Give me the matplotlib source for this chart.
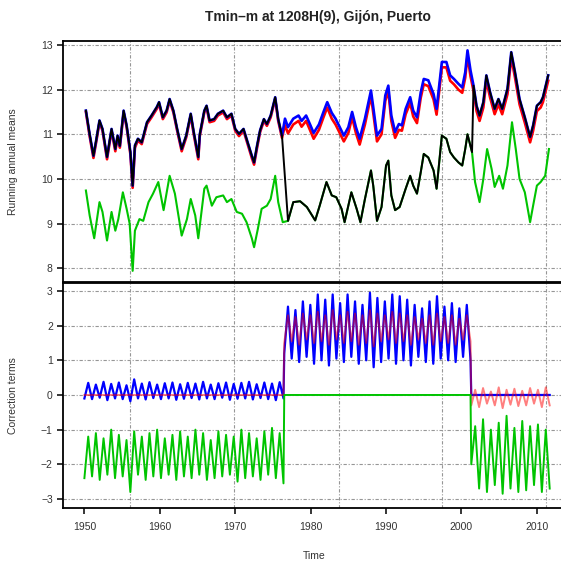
import numpy as np
import matplotlib
matplotlib.use("Agg")
import matplotlib.pyplot as plt

plt.rcParams['font.family'] = ['Liberation Sans', 'DejaVu Sans']

title = "Tmin\u2013m at 1208H(9), Gij\u00f3n, Puerto"

# ---- top panel: running annual means ----
upper_years = [1950.2, 1950.7, 1951.2, 1951.6, 1952.0, 1952.4, 1953.0, 1953.6, 1954.1, 1954.4,
               1954.7, 1955.2, 1955.6, 1956.1, 1956.4, 1956.7, 1957.1, 1957.6, 1958.3, 1958.9,
               1959.6, 1959.9, 1960.4, 1960.9, 1961.3, 1961.8, 1962.3, 1962.9, 1963.5, 1964.1,
               1964.5, 1965.1, 1965.3, 1965.9, 1966.2, 1966.6, 1967.2, 1967.7, 1968.4, 1968.9,
               1969.5, 1970.0, 1970.5, 1971.1, 1971.5, 1972.2, 1972.5, 1972.9, 1973.3, 1973.8,
               1974.2, 1974.7, 1975.3, 1975.7, 1976.2, 1976.6, 1977.0, 1977.7, 1978.4, 1978.8,
               1979.4, 1979.9, 1980.4, 1981.1, 1981.7, 1982.2, 1982.8, 1983.3, 1983.8, 1984.4,
               1985.0, 1985.5, 1986.0, 1986.5, 1987.2, 1988.0, 1988.3, 1988.8, 1989.4, 1989.9,
               1990.3, 1990.7, 1991.2, 1991.7, 1992.1, 1992.6, 1993.2, 1993.6, 1994.1, 1994.6,
               1995.0, 1995.6, 1996.3, 1996.7, 1997.4, 1998.0, 1998.5, 1999.0, 1999.6, 2000.1,
               2000.5, 2000.8, 2001.2, 2001.6, 2002.0, 2002.4, 2002.9, 2003.3, 2003.8, 2004.4,
               2004.9, 2005.4, 2006.1, 2006.6, 2007.1, 2007.7, 2008.4, 2009.1, 2009.5, 2010.0,
               2010.5, 2010.8, 2011.5]
blue_means = [11.53, 11.0, 10.52, 10.9, 11.31, 11.12, 10.49, 11.12, 10.67, 10.97,
              10.74, 11.53, 11.2, 10.6, 9.85, 10.75, 10.9, 10.82, 11.27, 11.42,
              11.61, 11.72, 11.38, 11.53, 11.79, 11.53, 11.12, 10.67, 10.97, 11.46,
              11.05, 10.49, 11.0, 11.53, 11.64, 11.31, 11.34, 11.46, 11.53, 11.38,
              11.46, 11.12, 11.01, 11.12, 10.9, 10.52, 10.37, 10.75, 11.09, 11.34,
              11.23, 11.42, 11.83, 11.34, 10.97, 11.35, 11.16, 11.35, 11.42, 11.3,
              11.42, 11.23, 11.03, 11.22, 11.5, 11.72, 11.48, 11.35, 11.18, 10.97,
              11.16, 11.5, 11.16, 10.9, 11.35, 11.98, 11.61, 10.97, 11.12, 11.87,
              12.09, 11.42, 11.05, 11.23, 11.2, 11.57, 11.83, 11.53, 11.38, 11.94,
              12.24, 12.21, 11.9, 11.57, 12.62, 12.62, 12.32, 12.24, 12.13, 12.05,
              12.39, 12.88, 12.43, 12.09, 11.64, 11.42, 11.72, 12.32, 11.94, 11.57,
              11.79, 11.57, 12.02, 12.84, 12.39, 11.79, 11.38, 10.94, 11.2, 11.64,
              11.72, 11.83, 12.32]
red_means = [11.5, 10.95, 10.47, 10.86, 11.27, 11.08, 10.44, 11.08, 10.62, 10.93,
             10.7, 11.49, 11.16, 10.55, 9.8, 10.7, 10.86, 10.78, 11.23, 11.38,
             11.57, 11.68, 11.34, 11.49, 11.75, 11.49, 11.08, 10.62, 10.93, 11.42,
             11.0, 10.44, 10.96, 11.49, 11.6, 11.27, 11.3, 11.42, 11.49, 11.34,
             11.42, 11.08, 10.96, 11.08, 10.86, 10.47, 10.32, 10.7, 11.05, 11.3,
             11.19, 11.38, 11.79, 11.3, 10.92, 11.2, 11.02, 11.22, 11.3, 11.17,
             11.3, 11.1, 10.9, 11.1, 11.38, 11.6, 11.35, 11.22, 11.05, 10.84,
             11.03, 11.38, 11.03, 10.77, 11.22, 11.86, 11.48, 10.84, 11.0, 11.75,
             11.97, 11.3, 10.92, 11.1, 11.08, 11.45, 11.7, 11.4, 11.25, 11.82,
             12.12, 12.08, 11.78, 11.44, 12.5, 12.5, 12.2, 12.12, 12.0, 11.93,
             12.27, 12.76, 12.3, 11.97, 11.52, 11.3, 11.6, 12.2, 11.82, 11.45,
             11.67, 11.45, 11.9, 12.72, 12.27, 11.67, 11.26, 10.82, 11.08, 11.52,
             11.6, 11.72, 12.2]

lower_years = [1950.2, 1950.7, 1951.3, 1952.0, 1952.4, 1953.0, 1953.6, 1954.1, 1954.5, 1955.1,
               1955.6, 1956.0, 1956.4, 1956.7, 1957.3, 1957.8, 1958.5, 1959.1, 1959.8, 1960.5,
               1961.3, 1962.0, 1962.9, 1963.6, 1964.1, 1964.7, 1965.1, 1965.9, 1966.2, 1966.9,
               1967.5, 1968.4, 1968.9, 1969.5, 1970.2, 1970.9, 1971.5, 1972.2, 1972.5, 1973.0,
               1973.5, 1974.2, 1974.7, 1975.3, 1975.7, 1976.3, 1977.0, 1977.7, 1978.6, 1979.5,
               1980.6, 1981.2, 1982.1, 1982.8, 1983.4, 1984.1, 1984.5, 1985.4, 1986.1, 1986.6,
               1987.2, 1988.0, 1988.3, 1988.8, 1989.4, 1990.0, 1990.3, 1990.7, 1991.2, 1991.8,
               1992.6, 1993.2, 1993.6, 1994.1, 1994.6, 1995.0, 1995.6, 1996.3, 1996.7, 1997.4,
               1998.0, 1998.5, 1999.0, 1999.6, 2000.1, 2000.5, 2000.8, 2001.4, 2001.8, 2002.4,
               2002.9, 2003.4, 2004.0, 2004.4, 2005.0, 2005.5, 2006.1, 2006.7, 2007.2, 2007.7,
               2008.4, 2009.1, 2009.5, 2010.0, 2010.5, 2011.1, 2011.6]
lower_means = [9.74, 9.18, 8.67, 9.48, 9.26, 8.62, 9.26, 8.84, 9.1, 9.7,
               9.33, 9.0, 7.94, 8.84, 9.1, 9.06, 9.48, 9.67, 9.93, 9.3,
               10.07, 9.67, 8.73, 9.1, 9.55, 9.18, 8.67, 9.78, 9.85, 9.4,
               9.59, 9.63, 9.48, 9.55, 9.26, 9.22, 9.03, 8.67, 8.47, 8.88,
               9.33, 9.4, 9.55, 10.07, 9.48, 9.03, 9.06, 9.48, 9.5, 9.37,
               9.07, 9.4, 9.93, 9.63, 9.59, 9.33, 9.03, 9.7, 9.33, 9.03,
               9.55, 10.19, 9.85, 9.06, 9.37, 10.3, 10.41, 9.63, 9.3, 9.37,
               9.78, 10.07, 9.85, 9.67, 10.15, 10.56, 10.48, 10.19, 9.78, 10.97,
               10.9, 10.6, 10.48, 10.37, 10.3, 10.67, 11.0, 10.6, 9.93, 9.48,
               10.0, 10.67, 10.22, 9.82, 10.07, 9.78, 10.3, 11.27, 10.67, 10.0,
               9.7, 9.03, 9.4, 9.85, 9.93, 10.07, 10.67]

# black series switches to the lower reference between the two breaks
break_start = 1976.4
break_end = 2001.5

# ---- bottom panel: correction terms (winter lows / summer highs) ----
blue_early_lo = [-0.10, -0.12, -0.08, -0.15, -0.10, -0.12, -0.18, -0.10, -0.13, -0.09, -0.12, -0.10, -0.14,
                 -0.11, -0.09, -0.13, -0.10, -0.12, -0.08, -0.14, -0.11, -0.10, -0.13, -0.09, -0.12, -0.15, -0.10]
blue_early_hi = [0.35, 0.30, 0.38, 0.32, 0.36, 0.28, 0.45, 0.33, 0.37, 0.30, 0.34, 0.36, 0.31,
                 0.35, 0.33, 0.38, 0.30, 0.34, 0.36, 0.32, 0.35, 0.38, 0.31, 0.36, 0.33, 0.37]
green_early_lo = [-2.4, -2.35, -2.45, -2.3, -2.4, -2.35, -2.8, -2.3, -2.45, -2.35, -2.4, -2.3, -2.45,
                  -2.35, -2.4, -2.3, -2.45, -2.4, -2.35, -2.3, -2.5, -2.4, -2.35, -2.45, -2.3, -2.4, -2.55]
green_early_hi = [-1.2, -1.1, -1.25, -1.0, -1.15, -1.3, -1.05, -1.2, -1.1, -1.0, -1.25, -1.15, -1.05,
                  -1.2, -1.0, -1.1, -1.3, -1.05, -1.15, -1.2, -1.0, -1.1, -1.25, -1.05, -0.95, -1.1]

blue_mid_lo = [1.2, 1.05, 0.95, 1.1, 0.9, 1.0, 0.85, 1.05, 0.95, 1.1, 0.9, 1.0, 0.8,
               0.95, 1.05, 0.9, 1.0, 0.85, 1.1, 0.95, 0.9, 1.05, 1.0, 0.95, 1.1, 1.0]
blue_mid_hi = [2.55, 2.45, 2.7, 2.6, 2.9, 2.75, 2.9, 2.65, 2.9, 2.7, 2.6, 2.95, 2.8,
               2.7, 2.9, 2.85, 2.75, 2.6, 2.5, 2.7, 2.85, 2.55, 2.65, 2.5, 2.6]
red_mid_lo = [1.5, 1.55, 1.45, 1.6, 1.5, 1.55, 1.45, 1.6, 1.5, 1.55, 1.45, 1.5, 1.4,
              1.55, 1.6, 1.5, 1.55, 1.45, 1.6, 1.5, 1.45, 1.55, 1.5, 1.45, 1.6, 1.55]
red_mid_hi = [2.3, 2.25, 2.35, 2.3, 2.4, 2.3, 2.45, 2.3, 2.4, 2.35, 2.3, 2.45, 2.35,
              2.3, 2.4, 2.35, 2.3, 2.25, 2.2, 2.3, 2.35, 2.25, 2.3, 2.2, 2.3]

red_late_lo = [-0.3, -0.35, -0.25, -0.3, -0.38, -0.28, -0.32, -0.3, -0.25, -0.35, -0.3]
red_late_hi = [0.15, 0.2, 0.1, 0.22, 0.15, 0.18, 0.12, 0.2, 0.15, 0.22]
green_late_lo = [-2.0, -2.7, -2.8, -2.6, -2.85, -2.7, -2.8, -2.75, -2.6, -2.8, -2.7]
green_late_hi = [-0.9, -0.7, -1.0, -0.8, -0.6, -0.95, -0.75, -0.9, -0.85, -1.0]

early_span = (1950.0, 1976.4)
mid_span = (1976.5, 2001.2)
late_span = (2001.3, 2011.7)

grid_years = [1956.0, 1969.8, 1983.7, 1997.4, 2011.2]
x_ticks = [1950, 1960, 1970, 1980, 1990, 2000, 2010]


def zigzag(lo, hi):
    out = []
    for i in range(len(lo)):
        out.append(lo[i])
        if i < len(hi):
            out.append(hi[i])
    return out


def times(span, n):
    return list(np.linspace(span[0], span[1], n))


BLUE = '#0000ff'
RED = '#ff0000'
GREEN = '#00c400'
GRID = '#969696'
gstyle = (0, (3, 1.6, 1, 1.6))

fig = plt.figure(figsize=(5.61, 5.61), dpi=100)
ax1 = fig.add_axes([0.1128, 0.4973, 0.8953, 0.4296])
ax2 = fig.add_axes([0.1128, 0.0939, 0.8953, 0.4016])

# top
uy = np.array(upper_years)
ly = np.array(lower_years)
bm = np.array(blue_means)
lm = np.array(lower_means)
keep_l = (ly >= break_start) & (ly <= break_end)
black_x = np.concatenate([uy[uy < break_start], ly[keep_l], uy[uy > break_end]])
black_y = np.concatenate([bm[uy < break_start], lm[keep_l], bm[uy > break_end]])

ax1.plot(upper_years, red_means, color=RED, lw=1.9)
ax1.plot(upper_years, blue_means, color=BLUE, lw=1.9)
ax1.plot(lower_years, lower_means, color=GREEN, lw=1.5)
ax1.plot(black_x, black_y, color='black', lw=1.4)

# bottom
e_n = len(blue_early_lo) + len(blue_early_hi)
m_n = len(blue_mid_lo) + len(blue_mid_hi)
l_n = len(red_late_lo) + len(red_late_hi)

bx = times(early_span, e_n) + times(mid_span, m_n) + [late_span[0], late_span[1]]
by = zigzag(blue_early_lo, blue_early_hi) + zigzag(blue_mid_lo, blue_mid_hi) + [0, 0]
rx = [early_span[0], early_span[1]] + times(mid_span, m_n) + times(late_span, l_n)
ry = [0, 0] + zigzag(red_mid_lo, red_mid_hi) + zigzag(red_late_lo, red_late_hi)
gx = times(early_span, e_n) + [mid_span[0], mid_span[1]] + times(late_span, l_n)
gy = zigzag(green_early_lo, green_early_hi) + [0, 0] + zigzag(green_late_lo, green_late_hi)

ax2.plot(bx, by, color=BLUE, lw=1.6)
ax2.plot(rx, ry, color=RED, lw=1.4, alpha=0.5)
ax2.plot(gx, gy, color=GREEN, lw=1.4)

for ax, yt, ylim, lab in [(ax1, range(8, 14), (7.69, 13.09), 'Running annual means'),
                          (ax2, range(-3, 4), (-3.27, 3.23), 'Correction terms')]:
    ax.set_xlim(1947.2, 2013.8)
    ax.set_ylim(*ylim)
    ax.set_yticks(list(yt))
    for v in yt:
        ax.axhline(v, color=GRID, lw=0.8, ls=gstyle, zorder=0)
    for g in grid_years:
        ax.axvline(g, color=GRID, lw=0.8, ls=gstyle, zorder=0)
    for s in ax.spines.values():
        s.set_linewidth(1.3)
    ax.tick_params(axis='y', direction='out', length=4.5, width=1.1, labelsize=7.5, pad=3,
                   labelcolor='#333333')
    ax.set_ylabel(lab, fontsize=7.5, color='#333333')
    ax.yaxis.set_label_coords(-0.09, 0.5)

ax1.tick_params(axis='x', bottom=False, labelbottom=False)
ax2.set_xticks(x_ticks)
ax2.tick_params(axis='x', direction='out', length=4.5, width=1.1, labelsize=7.5, pad=5,
                labelcolor='#333333')
ax2.set_xlabel('Time', fontsize=7.5, color='#333333', labelpad=14)

fig.text(0.567, 0.970, title, ha='center', va='center', fontsize=10, fontweight='bold',
         color='#222222')

fig.savefig('out.png', dpi=100)
